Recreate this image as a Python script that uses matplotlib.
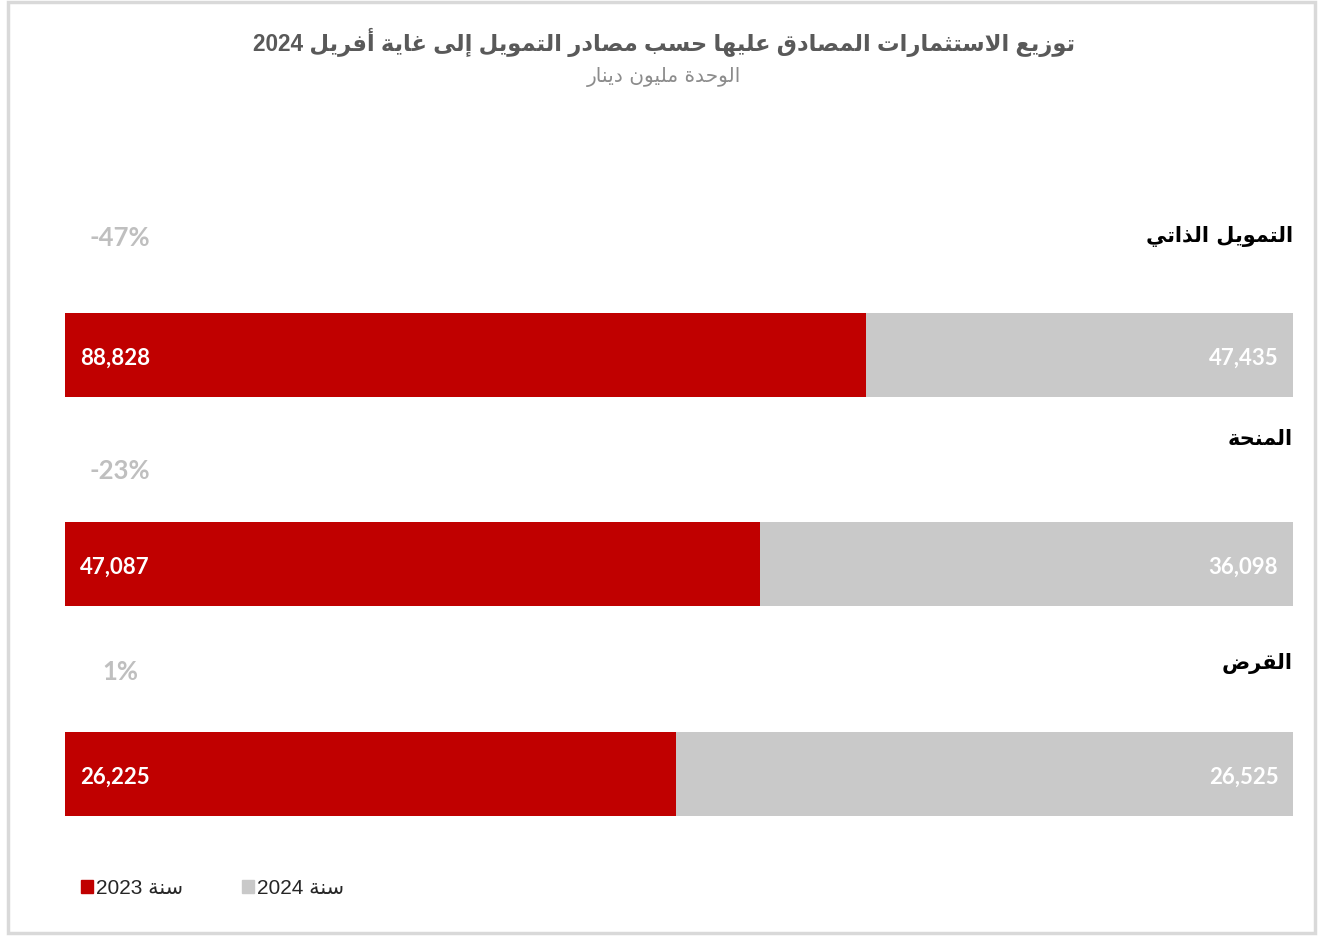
import numpy as np
import matplotlib.pyplot as plt
from matplotlib.patches import Patch, Rectangle

# data (million dinars)
categories = ['التمويل الذاتي', 'المنحة', 'القرض']
values_2023 = [88828, 47087, 26225]
values_2024 = [47435, 36098, 26525]
legend_labels = ['سنة 2023', 'سنة 2024']
title = 'توزيع الاستثمارات المصادق عليها حسب مصادر التمويل إلى غاية أفريل 2024'
subtitle = 'الوحدة مليون دينار'

RED = '#c00000'
GREY = '#c9c9c9'

#################################################################
# matplotlib has no arabic shaping, so pick the presentation forms by hand
_letters = [('ء', 1), ('آ', 2), ('أ', 2), ('ؤ', 2), ('إ', 2), ('ئ', 4), ('ا', 2),
            ('ب', 4), ('ة', 2), ('ت', 4), ('ث', 4), ('ج', 4), ('ح', 4), ('خ', 4),
            ('د', 2), ('ذ', 2), ('ر', 2), ('ز', 2), ('س', 4), ('ش', 4), ('ص', 4),
            ('ض', 4), ('ط', 4), ('ظ', 4), ('ع', 4), ('غ', 4), ('ف', 4), ('ق', 4),
            ('ك', 4), ('ل', 4), ('م', 4), ('ن', 4), ('ه', 4), ('و', 2), ('ى', 2),
            ('ي', 4)]
FORMS = {}
code = 0xFE80
for ch, n in _letters:
    FORMS[ch] = (code, n)
    code += n
LAM_ALEF = {'آ': 0xFEF5, 'أ': 0xFEF7, 'إ': 0xFEF9, 'ا': 0xFEFB}


def shape_word(w):
    out = []
    i = 0
    while i < len(w):
        c = w[i]
        if c not in FORMS:
            out.append(c)
            i += 1
            continue
        prev = w[i - 1] if i > 0 else ''
        join_prev = prev in FORMS and FORMS[prev][1] == 4
        if c == 'ل' and i + 1 < len(w) and w[i + 1] in LAM_ALEF:
            out.append(chr(LAM_ALEF[w[i + 1]] + (1 if join_prev else 0)))
            i += 2
            continue
        base, n = FORMS[c]
        nxt = w[i + 1] if i + 1 < len(w) else ''
        join_next = n == 4 and nxt in FORMS and FORMS[nxt][1] > 1
        if n == 1:
            f = base
        elif join_prev and join_next:
            f = base + 3
        elif join_prev:
            f = base + 1
        elif join_next:
            f = base + 2
        else:
            f = base
        out.append(chr(f))
        i += 1
    return ''.join(reversed(out))


def ar(text):
    toks = []
    for t in text.split(' '):
        if any(ch in FORMS for ch in t):
            toks.append(shape_word(t))
        else:
            toks.append(t)
    return ' '.join(reversed(toks))


#################################################################
W, H = 1336, 937
fig = plt.figure(figsize=(W / 100, H / 100), dpi=100)

# chart frame
fig.patches.append(Rectangle((8 / W, 3 / H), 1307 / W, 931 / H, transform=fig.transFigure,
                             fill=False, edgecolor='#d9d9d9', lw=2.5))

ax = fig.add_axes([65 / W, 1 - 842 / H, 1228 / W, (842 - 146) / H])

totals = np.array(values_2023) + np.array(values_2024)
share_23 = np.array(values_2023) / totals
share_24 = np.array(values_2024) / totals
y = np.arange(len(categories))

ax.barh(y, share_23, height=0.4, color=RED)
ax.barh(y, share_24, left=share_23, height=0.4, color=GREY)
ax.set_xlim(0, 1)
ax.set_ylim(2.32, -1.0)
ax.axis('off')

cat_dy = [-0.57, -0.6, -0.53]
pct_dy = [-0.56, -0.45, -0.49]
for i in range(len(categories)):
    ax.text(0.012, y[i] + 0.01, f'{values_2023[i]:,}', color='white', fontsize=16,
            fontweight='bold', family='Lato', ha='left', va='center')
    ax.text(0.988, y[i] + 0.01, f'{values_2024[i]:,}', color='white', fontsize=16,
            fontweight='bold', family='Lato', ha='right', va='center')
    ax.text(1.0, y[i] + cat_dy[i], ar(categories[i]), color='black', fontsize=15,
            fontweight='bold', family='DejaVu Sans', ha='right', va='center')
    change = values_2024[i] / values_2023[i] - 1
    ax.text(0.045, y[i] + pct_dy[i], f'{change:.0%}', color='#bfbfbf', fontsize=18.5,
            fontweight='bold', family='Lato', ha='center', va='center')

# title
fig.text(0.497, 1 - 42 / H, ar(title), ha='center', va='center', fontsize=16.3,
         fontweight='bold', color='#595959', family=['Liberation Sans', 'DejaVu Sans'])
fig.text(0.497, 1 - 77 / H, ar(subtitle), ha='center', va='center', fontsize=14.5,
         color='#8c8c8c', family='DejaVu Sans')

# legend
handles = [Patch(color=RED), Patch(color=GREY)]
fig.legend(handles, [ar(l) for l in legend_labels], loc='center left',
           bbox_to_anchor=(62 / W, 1 - 889 / H), ncol=2, frameon=False,
           handlelength=0.6, handleheight=0.6, handletextpad=0.15, columnspacing=2.8,
           prop={'family': ['Liberation Sans', 'DejaVu Sans'], 'size': 15}, labelcolor='#262626')

fig.savefig('out.png', dpi=100)
